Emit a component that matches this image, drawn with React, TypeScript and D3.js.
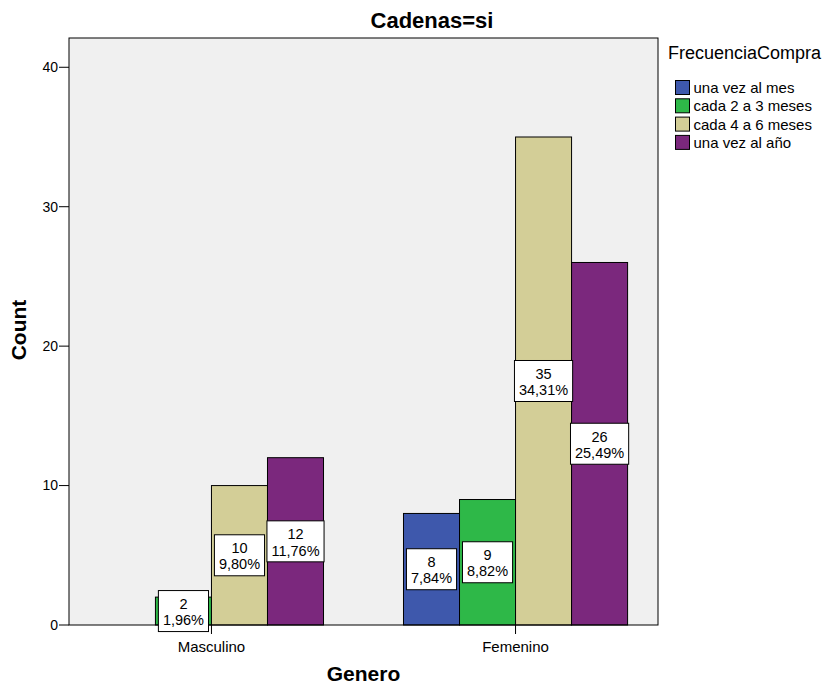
import React from "react";
import * as d3 from "d3";

const genders = ["Masculino", "Femenino"];
const frequencies = ["una vez al mes", "cada 2 a 3 meses", "cada 4 a 6 meses", "una vez al año"];
const colors = ["#3E58AC", "#2EB848", "#D3CE97", "#7B287D"];
const masculinoCounts = [0, 2, 10, 12];
const femeninoCounts = [8, 9, 35, 26];
const yTicks = [0, 10, 20, 30, 40];

const W = 827;
const H = 688;
const plot = { left: 69, right: 658, top: 38, bottom: 625 };
const FONT = "'Liberation Sans', Arial, sans-serif";

let ctx: CanvasRenderingContext2D | null = null;
function measure(text: string, size: number) {
  if (!ctx) ctx = document.createElement("canvas").getContext("2d");
  if (!ctx) return text.length * size * 0.55;
  ctx.font = `${size}px ${FONT}`;
  return ctx.measureText(text).width;
}

export default function App() {
  const counts = [masculinoCounts, femeninoCounts];
  const total = d3.sum(counts.flat());
  const x0 = d3.scaleBand<string>().domain(genders).range([plot.left, plot.right]).paddingInner(0.263).paddingOuter(0.1);
  const x1 = d3.scaleBand<string>().domain(frequencies).range([0, x0.bandwidth()]);
  const y = d3.scaleLinear().domain([0, 42.1]).range([plot.bottom, plot.top]);
  const fmt = (v: number) => d3.format(".2f")((v / total) * 100).replace(".", ",") + "%";

  const labelSize = 14.5;

  return (
    <svg width={W} height={H} style={{ position: "absolute", left: 0, top: 0, background: "#fff" }} fontFamily={FONT}>
      <rect x={plot.left} y={plot.top} width={plot.right - plot.left} height={plot.bottom - plot.top} fill="#F0F0F0" />
      {genders.map((g, gi) =>
        frequencies.map((f, fi) => {
          const v = counts[gi][fi];
          if (!v) return null;
          const bx = (x0(g) as number) + (x1(f) as number);
          return (
            <rect key={g + f} x={bx} y={y(v)} width={x1.bandwidth()} height={y(0) - y(v)} fill={colors[fi]} stroke="#000" strokeWidth={1} />
          );
        })
      )}
      <rect x={plot.left} y={plot.top} width={plot.right - plot.left} height={plot.bottom - plot.top} fill="none" stroke="#000" strokeWidth={1} />
      {yTicks.map((t) => (
        <g key={t}>
          <line x1={plot.left - 10} x2={plot.left} y1={y(t)} y2={y(t)} stroke="#000" />
          <text x={plot.left - 11} y={y(t)} dy="0.35em" textAnchor="end" fontSize={14} fill="#000">
            {t}
          </text>
        </g>
      ))}
      {genders.map((g) => {
        const cx = (x0(g) as number) + x0.bandwidth() / 2;
        return (
          <g key={g}>
            <line x1={cx} x2={cx} y1={plot.bottom} y2={plot.bottom + 9} stroke="#000" />
            <text x={cx} y={plot.bottom + 22} dy="0.35em" textAnchor="middle" fontSize={15} fill="#000">
              {g}
            </text>
          </g>
        );
      })}
      {genders.map((g, gi) =>
        frequencies.map((f, fi) => {
          const v = counts[gi][fi];
          if (!v) return null;
          const cx = (x0(g) as number) + (x1(f) as number) + x1.bandwidth() / 2;
          const cy = y(v / 2);
          const l1 = String(v);
          const l2 = fmt(v);
          const tw = Math.max(measure(l1, labelSize), measure(l2, labelSize));
          const bw = tw + 9;
          const bh = 41;
          return (
            <g key={"l" + g + f}>
              <rect x={cx - bw / 2} y={cy - bh / 2} width={bw} height={bh} fill="#fff" stroke="#000" strokeWidth={1} />
              <text x={cx} y={cy - 2.2} textAnchor="middle" fontSize={labelSize} fill="#000">
                {l1}
              </text>
              <text x={cx} y={cy + 14.2} textAnchor="middle" fontSize={labelSize} fill="#000">
                {l2}
              </text>
            </g>
          );
        })
      )}
      <text x={432} y={28} textAnchor="middle" fontSize={22} fontWeight="bold" fill="#000">
        Cadenas=si
      </text>
      <text x={(plot.left + plot.right) / 2} y={681} textAnchor="middle" fontSize={21} fontWeight="bold" fill="#000">
        Genero
      </text>
      <text transform={`translate(26, 330) rotate(-90)`} textAnchor="middle" fontSize={21} fontWeight="bold" fill="#000">
        Count
      </text>
      <text x={668} y={59} fontSize={18} fill="#000">
        FrecuenciaCompra
      </text>
      {frequencies.map((f, i) => (
        <g key={f} transform={`translate(675.5, ${80.5 + i * 18.3})`}>
          <rect x={0} y={0} width={14} height={14} fill={colors[i]} stroke="#000" strokeWidth={1} />
          <text x={18} y={7} dy="0.36em" fontSize={15} fill="#000">
            {f}
          </text>
        </g>
      ))}
    </svg>
  );
}
